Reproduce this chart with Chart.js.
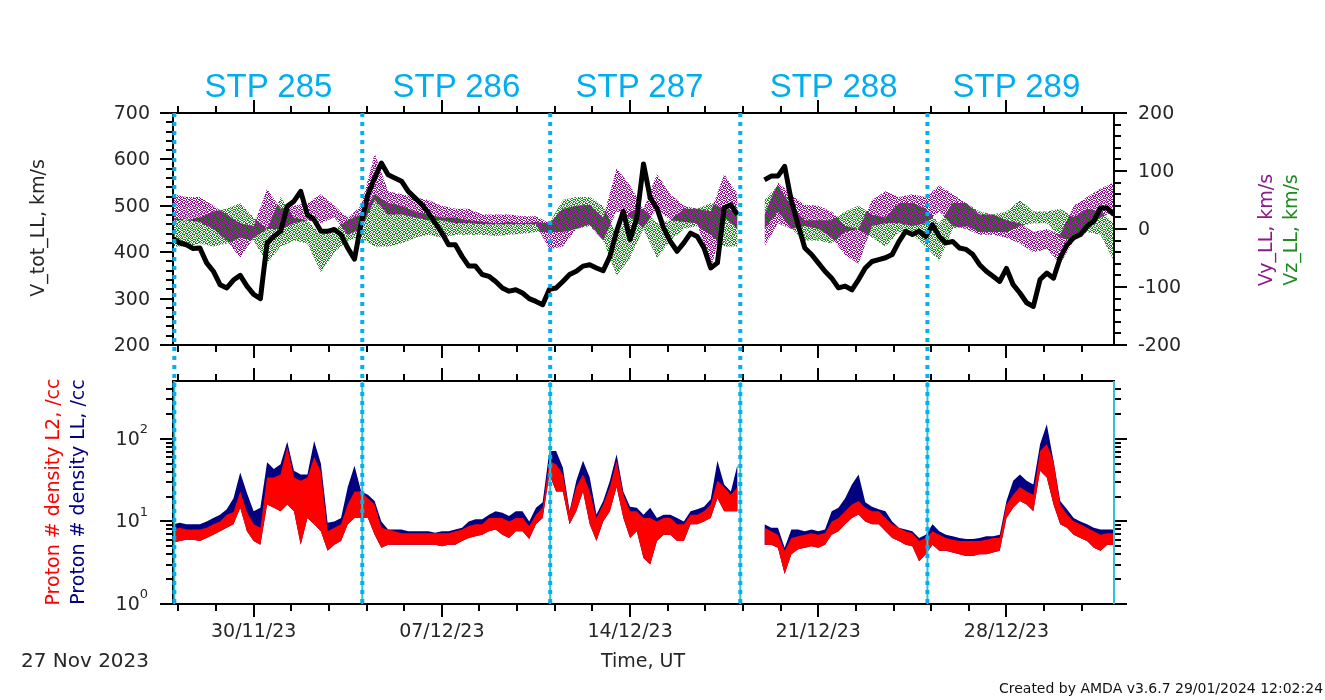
<!DOCTYPE html>
<html>
<head>
<meta charset="utf-8">
<script src="https://cdn.jsdelivr.net/npm/chart.js@4/dist/chart.umd.min.js"></script>
<style>
  body { margin: 0; width: 1325px; height: 700px; overflow: hidden; position: relative; background: #fff; font-family: "DejaVu Sans", sans-serif; }
  canvas { position: absolute; left: 0; top: 0; }
  .txt { position: absolute; white-space: nowrap; font-size: 19px; line-height: 19px; color: #262626; transform: translate(-50%, -50%); }
  .rot { position: absolute; white-space: nowrap; font-size: 19px; line-height: 19px; transform: translate(-50%, -50%) rotate(-90deg); }
  .stp { position: absolute; white-space: nowrap; font-family: "Liberation Sans", Arial, sans-serif; font-size: 33px; line-height: 33px; color: #00aeef; transform: translate(-50%, -50%); top: 85px; }
</style>
</head>
<body>
<canvas id="cTop" width="1325" height="700"></canvas>
<canvas id="cBot" width="1325" height="700"></canvas>

<div class="rot" style="left:37px;top:228px;color:#262626">V_tot_LL, km/s</div>
<div class="rot" style="left:1265px;top:230px;color:#8b1a8b">Vy_LL, km/s</div>
<div class="rot" style="left:1290px;top:230px;color:#1e8c1e">Vz_LL, km/s</div>
<div class="rot" style="left:52px;top:492px;color:#ff0000">Proton # density L2, /cc</div>
<div class="rot" style="left:77px;top:492px;color:#000080">Proton # density LL, /cc</div>
<div class="txt" style="left:85px;top:660px;font-size:20px">27 Nov 2023</div>
<div class="txt" style="left:643px;top:660px">Time, UT</div>
<div class="txt" style="left:1161px;top:688px;font-size:14px;line-height:14px;color:#111">Created by AMDA v3.6.7 29/01/2024 12:02:24</div>
<div id="stpLabels"></div>

<script>
// time axis: days since 27 Nov 2023 00:00
const dayMin = 0;
const dayMax = 35;
const sampleStep = 0.25;   // V_tot and densities, every 6 h
const compStep = 0.5;      // Vy / Vz envelopes, every 12 h

const xTickDays = [];
for (let i = 0; i < 25; i++) xTickDays.push(0.2 + 1.4 * i);
const dateLabels = ["30/11/23", "07/12/23", "14/12/23", "21/12/23", "28/12/23"];

// STP boundaries and labels
const stpBounds = [0.05, 7.04, 14.03, 21.1, 28.06, 35.06];
const stpNames = ["STP 285", "STP 286", "STP 287", "STP 288", "STP 289"];
const stpLabelDays = [3.55, 10.54, 17.35, 24.57, 31.37];

// V_tot_LL (km/s)
const vTot = [430,420,416,408,409,377,359,330,323,340,350,327,309,300,420,434,445,499,510,531,481,470,445,445,449,438,409,385,463,524,560,592,567,560,553,531,517,503,485,463,442,416,416,391,370,370,352,
  348,337,323,316,319,312,300,294,287,320,323,337,352,359,370,373,366,360,391,445,488,427,474,590,517,495,452,423,402,420,441,434,409,366,377,495,502,481,
  null,null,null,
  556,564,564,585,510,459,409,395,377,359,344,323,327,319,341,366,380,384,388,395,423,445,438,445,434,459,434,420,423,409,406,395,373,359,348,337,365,330,312,291,283,341,355,344,388,416,431,438,456,467,495,495,481];

// Vy_LL / Vz_LL envelopes (km/s)
const vyLo = [15,15,12,0,-20,-50,-15,0,0,10,15,10,20,-10,0,50,25,25,20,15,15,10,10,
  8,8,8,8,8,-35,-30,0,8,-20,30,20,2,35,15,12,10,-70,20,0,
  null,
  -30,10,0,5,0,-15,-45,-60,5,10,10,5,10,30,5,0,-10,-10,-15,-25,-40,-35,-60,-20,10,20,30];
const vyHi = [60,55,55,40,25,10,5,70,35,40,45,60,40,20,40,130,65,60,55,50,40,35,35,
  25,25,25,22,22,10,35,40,42,20,105,75,35,95,60,40,35,30,95,60,
  null,
  25,80,60,42,40,30,5,0,50,65,55,60,55,75,60,45,25,25,15,10,-5,0,-10,40,55,70,80];
const vzLo = [-30,-30,-25,-30,-25,-15,-20,-60,-30,-20,-25,-75,-40,-20,-15,-30,-30,-25,-15,-10,-15,-10,-10,
  -10,-12,-10,-8,-5,-5,-5,0,5,-20,-80,-50,0,-50,-20,0,5,-10,-30,-30,
  null,
  0,30,0,-20,-20,-25,-5,0,-15,-30,-5,-10,-30,-55,0,5,-5,-5,-5,5,10,10,-15,-20,-5,-10,-55];
const vzHi = [20,15,20,30,35,45,20,0,55,20,15,-10,0,15,25,60,45,40,30,25,20,20,15,
  13,10,12,10,12,10,50,55,55,40,-10,30,35,10,15,35,35,45,35,30,
  null,
  50,75,40,15,15,15,30,40,25,20,45,45,35,10,45,45,30,25,30,50,30,30,35,20,35,30,10];

// proton density (/cc): L2 envelope and LL upper edge
const denL2Lo = [5.5,5.8,6.0,6.0,5.8,6.3,6.9,7.6,8.4,9.2,14.6,7.6,5.8,5.2,16,14.6,13.3,16,13.3,5.2,11,9.2,7.6,4.4,5.2,5.8,9.2,11,11,11,6.9,4.8,5.2,5.2,5.2,5.2,5.2,5.2,5.2,5.2,5.0,5.2,5.2,5.8,6.3,6.6,6.9,
  7.6,8.0,6.9,6.3,7.6,7.6,6.1,9.2,11,37,23,23,9.2,13.3,23,9.2,5.8,10,13.3,26,11,6.3,7.6,3.6,3.0,5.8,6.9,6.9,5.8,5.8,9.2,9.2,10,11,19,13.3,13.3,13.3,
  null,null,null,
  5.2,5.2,4.8,2.3,4.0,4.6,4.8,5.0,4.8,5.2,6.9,7.6,9.2,11,12.1,10,9.2,9.2,7.6,6.3,5.8,5.2,5.0,3.3,4.0,5.2,4.4,4.4,4.2,4.0,3.8,3.8,4.0,4.0,4.2,4.4,11,14.6,17.6,16,13.3,41,34,16,9.2,8.4,6.9,6.3,5.8,4.8,4.4,5.2,5.2];
const denL2Hi = [8.0,8.4,8.0,8.0,8.0,8.4,9.2,10,12,13,23,13,9.2,8.4,34,34,37,80,34,31,34,60,40,7.6,8.4,9.2,16,23,23,19,16,8.4,8.0,7.6,7.2,7.2,7.2,7.2,7.2,7.2,7.2,7.2,7.6,8.0,8.8,9.2,9.2,
  11,11,11,10,11,11,8.8,12,14.6,54,49,37,13,26,37,23,11,16,26,54,21,13.3,13.3,11,11,10,11,11,9.2,9.2,12,12,13.3,16,31,26,21,26,
  null,null,null,
  8.4,7.6,6.9,4.4,6.3,6.6,6.9,7.2,6.9,7.2,10,11,13.3,16,17.6,14.6,13.3,13.3,11,9.2,8.4,7.6,7.2,5.8,6.3,7.6,6.9,6.3,6.0,5.8,5.8,5.8,5.8,6.0,6.3,6.3,16,21,26,23,21,71,86,54,16,12.1,10,9.2,8.4,7.6,6.9,7.2,7.2];
const denLLHi = [9.2,9.6,9.2,9.2,9.2,10,11,12,14,19,39,22,13.3,14.6,52,43,49,92,41,37,37,94,50,9.6,10,11,26,47,23,21,17.6,10,8.0,8.0,8.0,7.6,7.6,7.6,7.6,7.3,7.6,7.6,8.0,8.4,10,10.6,10.6,
  12,13.3,12.7,11.6,13.3,13.3,10,14.6,17,71,71,45,13.3,31,54,34,12.1,17.6,31,65,23,15,14.6,12,14.6,11,12,12,11,10,13.3,14,15,18.5,54,28,23,49,
  null,null,null,
  9.2,8.4,8.4,4.8,8.0,8.0,7.6,8.0,7.6,8.0,13.3,14.6,19,28,37,17,15,14,13.3,10,8.4,8.0,7.6,6.3,6.9,9.2,7.6,6.9,6.6,6.3,6.1,6.1,6.3,6.6,6.6,6.9,17.6,31,37,31,28,86,150,54,17.6,14,11,10,9.2,8.4,8.0,8.0,8.0];

// tick values
const vMajor = [200, 300, 400, 500, 600, 700];
const vMinor = [];
for (let v = 200; v <= 700; v += 20) if (v % 100) vMinor.push(v);
const cMajor = [-200, -100, 0, 100, 200];
const cMinor = [];
for (let v = -200; v <= 200; v += 20) if (v % 100) cMinor.push(v);
const dMajor = [1, 10, 100];
const dMinor = [2,3,4,5,6,7,8,9,20,30,40,50,60,70,80,90,200,300,400];

// speckled fill, so the Vy / Vz clouds read as scattered samples
const speckle = [
  "1001101001",
  "0110010110",
  "1010101100",
  "0101100011",
  "1100011010",
  "0011010101",
  "1010110010",
  "0101001101",
  "1001110100",
  "0110001011"
];
function speckleFill(color, invert) {
  const tile = document.createElement("canvas");
  tile.width = 10; tile.height = 10;
  const t = tile.getContext("2d");
  t.fillStyle = color;
  speckle.forEach((row, y) => {
    [...row].forEach((c, x) => {
      if ((c === "1") !== invert) t.fillRect(x, y, 1, 1);
    });
  });
  return t.createPattern(tile, "repeat");
}

function series(vals, step) {
  return vals.map((v, i) => ({ x: i * step, y: v }));
}

function band(vals, step, color, fill, order, axis) {
  return {
    data: series(vals, step),
    borderWidth: 0,
    borderColor: "rgba(0,0,0,0)",
    backgroundColor: color,
    pointRadius: 0,
    fill: fill,
    order: order,
    yAxisID: axis
  };
}

const amdaAxes = {
  id: "amdaAxes",
  afterDraw(chart, args, o) {
    const ctx = chart.ctx, a = chart.chartArea, sx = chart.scales.x;
    ctx.save();
    ctx.strokeStyle = "#000";
    ctx.lineWidth = 2;
    ctx.beginPath();
    ctx.rect(a.left, a.top, a.right - a.left, a.bottom - a.top);
    xTickDays.forEach((d, i) => {
      const px = Math.round(sx.getPixelForValue(d));
      const len = i % 5 === 2 ? 13 : 7;
      ctx.moveTo(px, a.top); ctx.lineTo(px, a.top - len);
      ctx.moveTo(px, a.bottom); ctx.lineTo(px, a.bottom + len);
    });
    o.axes.forEach(ax => {
      const s = chart.scales[ax.id];
      ax.sides.forEach(side => {
        const e = side === "left" ? a.left : a.right;
        const dir = side === "left" ? -1 : 1;
        ax.minor.forEach(v => { const py = Math.round(s.getPixelForValue(v)); ctx.moveTo(e, py); ctx.lineTo(e + dir * 7, py); });
        ax.major.forEach(v => { const py = Math.round(s.getPixelForValue(v)); ctx.moveTo(e, py); ctx.lineTo(e + dir * 13, py); });
      });
    });
    ctx.stroke();

    ctx.fillStyle = "#262626";
    ctx.font = '19px "DejaVu Sans"';
    ctx.textBaseline = "middle";
    o.axes.forEach(ax => {
      if (!ax.labelSide) return;
      const s = chart.scales[ax.id];
      ax.major.forEach(v => {
        const py = s.getPixelForValue(v);
        if (ax.log) {
          const exp = String(Math.round(Math.log10(v)));
          ctx.font = '13px "DejaVu Sans"';
          const ew = ctx.measureText(exp).width;
          ctx.textAlign = "right";
          ctx.fillText(exp, a.left - 25, py - 9);
          ctx.font = '19px "DejaVu Sans"';
          ctx.fillText("10", a.left - 25 - ew, py + 1);
        } else if (ax.labelSide === "left") {
          ctx.textAlign = "right";
          ctx.fillText(String(v), a.left - 23, py + 1);
        } else {
          ctx.textAlign = "left";
          ctx.fillText(String(v), a.right + 24, py + 1);
        }
      });
    });
    if (o.dateLabels) {
      ctx.textAlign = "center";
      ctx.textBaseline = "alphabetic";
      xTickDays.forEach((d, i) => {
        if (i % 5 !== 2) return;
        ctx.fillText(dateLabels[(i - 2) / 5], sx.getPixelForValue(d), a.bottom + 33);
      });
    }

    if (o.stpLines) {
      const topArea = topChart.chartArea;
      const inRange = stpBounds.map(d => Math.min(d, dayMax));
      // thin solid boundary lines inside the density panel
      ctx.strokeStyle = "#2ec4d6";
      ctx.lineWidth = 2;
      ctx.beginPath();
      inRange.forEach(d => {
        const px = sx.getPixelForValue(d);
        ctx.moveTo(px, a.top); ctx.lineTo(px, a.bottom);
      });
      ctx.stroke();
      // dotted boundary lines across both panels
      ctx.strokeStyle = "#00b0f0";
      ctx.lineWidth = 4;
      ctx.setLineDash([4, 5]);
      ctx.beginPath();
      stpBounds.forEach(d => {
        if (d > dayMax) return;
        const px = sx.getPixelForValue(d);
        ctx.moveTo(px, topArea.top); ctx.lineTo(px, a.bottom);
      });
      ctx.stroke();
    }
    ctx.restore();
  }
};

const baseOptions = (padding, scales, axesOpts) => ({
  responsive: false,
  animation: false,
  events: [],
  layout: { padding: padding },
  plugins: { legend: { display: false }, tooltip: { enabled: false }, amdaAxes: axesOpts },
  scales: scales,
  elements: { point: { radius: 0 }, line: { tension: 0 } }
});

const vyFill = speckleFill("#8a108a", false);
const vzFill = speckleFill("#1a851a", true);

const topChart = new Chart(document.getElementById("cTop"), {
  type: "line",
  data: {
    datasets: [
      { data: series(vTot, sampleStep), borderColor: "#000", borderWidth: 5, pointRadius: 0, fill: false, order: 0, yAxisID: "y", borderJoinStyle: "round" },
      band(vzLo, compStep, vzFill, false, 1, "y2"),
      band(vzHi, compStep, vzFill, "-1", 1, "y2"),
      band(vyLo, compStep, vyFill, false, 2, "y2"),
      band(vyHi, compStep, vyFill, "-1", 2, "y2")
    ]
  },
  options: baseOptions(
    { left: 173, right: 211, top: 113, bottom: 355 },
    {
      x: { type: "linear", min: dayMin, max: dayMax, display: false },
      y: { type: "linear", min: 200, max: 700, display: false },
      y2: { type: "linear", min: -200, max: 200, display: false }
    },
    {
      axes: [
        { id: "y", sides: ["left"], major: vMajor, minor: vMinor, labelSide: "left" },
        { id: "y2", sides: ["right"], major: cMajor, minor: cMinor, labelSide: "right" }
      ]
    }
  ),
  plugins: [amdaAxes]
});

const botChart = new Chart(document.getElementById("cBot"), {
  type: "line",
  data: {
    datasets: [
      band(denL2Lo, sampleStep, "#ff0000", false, 1, "y"),
      band(denL2Hi, sampleStep, "#ff0000", "-1", 1, "y"),
      band(denLLHi, sampleStep, "#000080", 0, 2, "y")
    ]
  },
  options: baseOptions(
    { left: 173, right: 211, top: 381, bottom: 96 },
    {
      x: { type: "linear", min: dayMin, max: dayMax, display: false },
      y: { type: "logarithmic", min: 1, max: 500, display: false }
    },
    {
      axes: [
        { id: "y", sides: ["left", "right"], major: dMajor, minor: dMinor, labelSide: "left", log: true }
      ],
      dateLabels: true,
      stpLines: true
    }
  ),
  plugins: [amdaAxes]
});

const holder = document.getElementById("stpLabels");
stpNames.forEach((name, i) => {
  const el = document.createElement("div");
  el.className = "stp";
  el.textContent = name;
  el.style.left = topChart.scales.x.getPixelForValue(stpLabelDays[i]) + "px";
  holder.appendChild(el);
});
</script>
</body>
</html>
